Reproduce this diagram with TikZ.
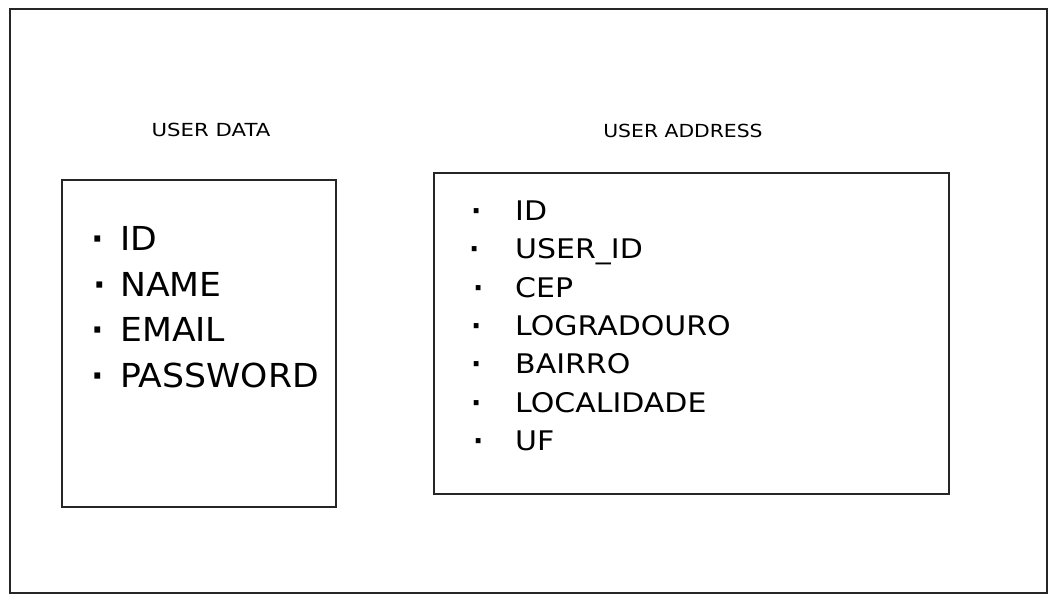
\documentclass[tikz,border=0pt]{standalone}
\usepackage{fontspec}
\setmainfont{DejaVu Sans}
\newcommand\hstretch[2]{\scalebox{#1}[1]{#2}}
\newcommand\bul{\textbf{·}}
\begin{document}
\begin{tikzpicture}[x=1pt,y=-1pt,
  frame/.style={draw=black!85, line width=1.3pt},
  title/.style={font=\fontsize{18}{18}\selectfont, inner sep=0pt, text=black},
  lefttxt/.style={font=\fontsize{33}{33}\selectfont, inner sep=0pt, anchor=base west, text=black},
  righttxt/.style={font=\fontsize{27}{27}\selectfont, inner sep=0pt, anchor=base west, text=black}]
\useasboundingbox (0,0) rectangle (1057,603);
\fill[white] (0,0) rectangle (1057,603);
% outer frame
\draw[frame] (10,9) rectangle (1047,593);
% titles
\node[title] (t1) at (211,130) {\hstretch{1.18}{USER DATA}};
\node[title] (t2) at (683,131) {\hstretch{1.13}{USER ADDRESS}};
% boxes
\draw[frame] (62,180) rectangle (336,507);
\draw[frame] (434,173) rectangle (949,494);
% left list
\node[lefttxt] (l1) at (91,250) {\makebox[29pt][l]{\bul}\hstretch{1.05}{ID}};
\node[lefttxt] (l2) at (93,296) {\makebox[27pt][l]{\bul}\hstretch{1.05}{NAME}};
\node[lefttxt] (l3) at (91,341) {\makebox[29pt][l]{\bul}\hstretch{1.05}{EMAIL}};
\node[lefttxt] (l4) at (91,387) {\makebox[29pt][l]{\bul}\hstretch{1.05}{PASSWORD}};
% right list
\node[righttxt] (r1) at (471,220) {\makebox[44pt][l]{\bul}\hstretch{1.11}{ID}};
\node[righttxt] (r2) at (469,258) {\makebox[46pt][l]{\bul}\hstretch{1.11}{USER\_ID}};
\node[righttxt] (r3) at (473,297) {\makebox[42pt][l]{\bul}\hstretch{1.11}{CEP}};
\node[righttxt] (r4) at (471,335) {\makebox[44pt][l]{\bul}\hstretch{1.11}{LOGRADOURO}};
\node[righttxt] (r5) at (471,373) {\makebox[44pt][l]{\bul}\hstretch{1.11}{BAIRRO}};
\node[righttxt] (r6) at (471,412) {\makebox[44pt][l]{\bul}\hstretch{1.11}{LOCALIDADE}};
\node[righttxt] (r7) at (473,450) {\makebox[42pt][l]{\bul}\hstretch{1.11}{UF}};
\end{tikzpicture}
\end{document}
